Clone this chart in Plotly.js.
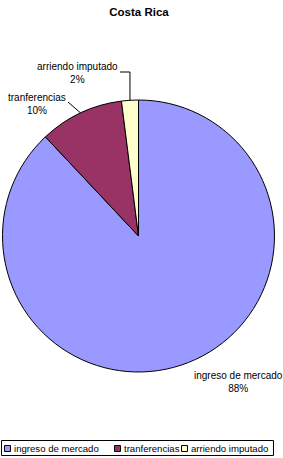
<!DOCTYPE html>
<html><head>
<script src="https://cdn.plot.ly/plotly-3.0.1.min.js"></script>
<style>body{margin:0;background:#fff}</style>
</head><body>
<div id="c" style="width:283px;height:458px"></div>
<script>
const categories = ["ingreso de mercado", "tranferencias", "arriendo imputado"];
const values = [88, 10, 2];
const pctLabels = ["88%", "10%", "2%"];
const colors = ["#9999FF", "#993366", "#FFFFCC"];

const W = 283, H = 458;
const px = x => x / W, py = y => 1 - y / H;
const FONT = "Liberation Sans, Arial, sans-serif";

// pie geometry (pixels)
const cx = 138.5, cy = 236, R = 136;
const total = values.reduce((a, b) => a + b, 0);
function edgePoint(i) {
  let before = 0;
  for (let k = 0; k < i; k++) before += values[k];
  const mid = (before + values[i] / 2) / total * 2 * Math.PI; // clockwise from top
  return [cx + R * Math.sin(mid), cy - R * Math.cos(mid)];
}

const labelPos = [[238, 381.5], [36.5, 103.5], [77, 73]];
const annotations = categories.map((c, i) => ({
  xref: "paper", yref: "paper",
  x: px(labelPos[i][0]), y: py(labelPos[i][1]),
  xanchor: "center", yanchor: "middle",
  text: c + "<br>" + pctLabels[i],
  showarrow: false,
  font: {family: FONT, size: 10, color: "#000"}
}));

const shapes = [];
// leader lines
const e1 = edgePoint(1);
shapes.push({type: "line", xref: "paper", yref: "paper",
  x0: px(68), y0: py(102), x1: px(e1[0]), y1: py(e1[1]),
  line: {color: "#000", width: 1}});
const e2 = edgePoint(2);
shapes.push({type: "line", xref: "paper", yref: "paper",
  x0: px(120), y0: py(72), x1: px(e2[0]), y1: py(72),
  line: {color: "#000", width: 1}});
shapes.push({type: "line", xref: "paper", yref: "paper",
  x0: px(e2[0]), y0: py(72), x1: px(e2[0]), y1: py(e2[1]),
  line: {color: "#000", width: 1}});

// custom legend
shapes.push({type: "rect", xref: "paper", yref: "paper",
  x0: px(1.5), y0: py(440.5), x1: px(273.5), y1: py(455.5),
  line: {color: "#000", width: 1}, fillcolor: "rgba(0,0,0,0)"});
const legX = [4, 114, 181];
categories.forEach((c, i) => {
  shapes.push({type: "rect", xref: "paper", yref: "paper",
    x0: px(legX[i] + 0.5), y0: py(445.5), x1: px(legX[i] + 6.5), y1: py(451.5),
    line: {color: "#000", width: 1}, fillcolor: colors[i]});
  annotations.push({xref: "paper", yref: "paper",
    x: px(legX[i] + 7.5), y: py(448.5), xanchor: "left", yanchor: "middle",
    text: c, showarrow: false, font: {family: FONT, size: 9.6, color: "#000"}});
});

const trace = {
  type: "pie",
  labels: categories,
  values: values,
  sort: false,
  direction: "clockwise",
  rotation: 0,
  textinfo: "none",
  hoverinfo: "none",
  showlegend: false,
  marker: {colors: colors, line: {color: "#000", width: 1}},
  domain: {x: [px(cx - R), px(cx + R)], y: [py(cy + R), py(cy - R)]}
};

const layout = {
  width: W, height: H,
  margin: {l: 0, r: 0, t: 0, b: 0},
  paper_bgcolor: "#fff", plot_bgcolor: "#fff",
  title: {text: "<b>Costa Rica</b>", x: px(139), xanchor: "center",
          y: py(12), yanchor: "middle", yref: "container",
          font: {family: FONT, size: 11.5, color: "#000"}},
  showlegend: false,
  annotations: annotations,
  shapes: shapes
};

Plotly.newPlot("c", [trace], layout, {displayModeBar: false, staticPlot: true});
</script>
</body></html>
